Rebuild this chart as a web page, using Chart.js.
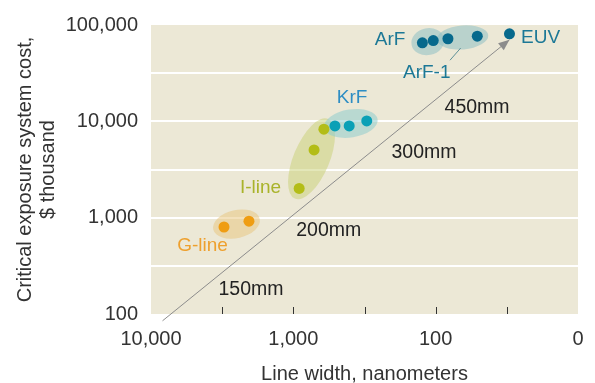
<!DOCTYPE html>
<html>
<head>
<meta charset="utf-8">
<script src="https://cdn.jsdelivr.net/npm/chart.js@4.4.0/dist/chart.umd.min.js"></script>
<style>
  html, body { margin: 0; padding: 0; background: #ffffff; }
  #wrap { width: 595px; height: 383px; position: relative; }
</style>
</head>
<body>
<div id="wrap"><canvas id="c"></canvas></div>
<script>
// Lithography generations: line width (nm) vs. critical exposure system cost ($ thousand)
const gLineWidth = [3070, 2050];
const gLineCost  = [800, 920];
const iLineWidth = [910, 715, 610];
const iLineCost  = [2010, 5050, 8300];
const krfWidth   = [510, 405, 305];
const krfCost    = [8950, 8950, 10100];
const arfWidth   = [124, 104];
const arfCost    = [65400, 69000];
const arf1Width  = [82, 51];
const arf1Cost   = [72000, 76600];
const euvWidth   = [30.3];
const euvCost    = [80900];

// Wafer-size trend arrow (start, end)
const trendWidth = [8300, 30.3];
const trendCost  = [85, 70200];

// Axis ticks
const xTicks     = [10000, 1000, 100, 10];
const xTickText  = ['10,000', '1,000', '100', '0'];
const yTicks     = [100, 1000, 10000, 100000];
const yTickText  = ['100', '1,000', '10,000', '100,000'];

const FONT = "'Liberation Sans', Arial, Helvetica, sans-serif";
const BG = '#ece8d6';

function pairs(xs, ys) { return xs.map((x, i) => ({ x: x, y: ys[i] })); }

// decade ticks plus the half-decade marks between them
function withHalves(list) {
  const s = list.slice().sort((a, b) => a - b);
  const out = [];
  s.forEach((v, i) => { out.push(v); if (i < s.length - 1) out.push(Math.sqrt(v * s[i + 1])); });
  return out;
}
function labelFor(v, vals, texts) {
  for (let i = 0; i < vals.length; i++) if (Math.abs(v - vals[i]) / vals[i] < 1e-6) return texts[i];
  return '';
}

const groups = [
  { name: 'G-line', xs: gLineWidth, ys: gLineCost, dot: '#ef9d12', fill: 'rgba(232,196,122,0.5)', minor: 14 },
  { name: 'I-line', xs: iLineWidth, ys: iLineCost, dot: '#b3bd17', fill: 'rgba(200,208,116,0.5)', minor: 18 },
  { name: 'KrF',    xs: krfWidth,   ys: krfCost,   dot: '#0aa0b6', fill: 'rgba(144,204,206,0.55)', minor: 14 },
  { name: 'ArF',    xs: arfWidth,   ys: arfCost,   dot: '#07698c', fill: 'rgba(144,192,196,0.55)', minor: 13.5 },
  { name: 'ArF-1',  xs: arf1Width,  ys: arf1Cost,  dot: '#07698c', fill: 'rgba(144,192,196,0.55)', minor: 12 },
  { name: 'EUV',    xs: euvWidth,   ys: euvCost,   dot: '#07698c', fill: null, minor: 0 }
];

// Text annotations, anchored in data units (centre of text)
const notes = [
  { text: 'ArF',   x: 209,  y: 70200, color: '#1c7896', size: 19 },
  { text: 'ArF-1', x: 115.6, y: 31700, color: '#1c7896', size: 19 },
  { text: 'EUV',   x: 18.3, y: 74100, color: '#1c7896', size: 19 },
  { text: 'KrF',   x: 387,  y: 17600, color: '#2e8ec4', size: 19 },
  { text: 'I-line', x: 1701, y: 2035, color: '#a9b32a', size: 19 },
  { text: 'G-line', x: 4347, y: 509,  color: '#eea02e', size: 19 },
  { text: '450mm', x: 51.2, y: 13970, color: '#222222', size: 19.5 },
  { text: '300mm', x: 120.8, y: 4778, color: '#222222', size: 19.5 },
  { text: '200mm', x: 564,  y: 725,   color: '#222222', size: 19.5 },
  { text: '150mm', x: 1983, y: 181,   color: '#222222', size: 19.5 }
];
// leader from the ArF-1 label to its ellipse
const leader = { x: [79.3, 66.7], y: [43100, 57700] };

const datasets = groups.map(g => ({
  label: g.name,
  data: pairs(g.xs, g.ys),
  backgroundColor: g.dot,
  borderColor: g.dot,
  borderWidth: 0,
  pointRadius: 5.5,
  pointHoverRadius: 5.5
}));
datasets.unshift({
  label: 'trend',
  data: pairs(trendWidth, trendCost),
  showLine: true,
  borderColor: '#8c8c8c',
  borderWidth: 1,
  pointRadius: 0,
  clip: false
});

const plotBackground = {
  id: 'plotBackground',
  beforeDraw(chart) {
    const a = chart.chartArea, ctx = chart.ctx;
    ctx.save();
    ctx.fillStyle = BG;
    ctx.fillRect(a.left, a.top, a.right - a.left, a.bottom - a.top);
    ctx.restore();
  }
};

// short inward tick marks along the bottom edge of the plot
const innerTicks = {
  id: 'innerTicks',
  beforeDatasetsDraw(chart) {
    const ctx = chart.ctx, sx = chart.scales.x, a = chart.chartArea;
    ctx.save();
    ctx.strokeStyle = '#333333';
    ctx.lineWidth = 1;
    sx.ticks.forEach(t => {
      if (t.value === 10 || t.value === 10000) return;
      const px = Math.round(sx.getPixelForValue(t.value)) + 0.5;
      ctx.beginPath();
      ctx.moveTo(px, a.bottom);
      ctx.lineTo(px, a.bottom - 7);
      ctx.stroke();
    });
    ctx.restore();
  }
};

const groupEllipses = {
  id: 'groupEllipses',
  beforeDatasetsDraw(chart) {
    const ctx = chart.ctx, sx = chart.scales.x, sy = chart.scales.y;
    groups.forEach(g => {
      if (!g.fill) return;
      const n = g.xs.length;
      const x0 = sx.getPixelForValue(g.xs[0]), y0 = sy.getPixelForValue(g.ys[0]);
      const x1 = sx.getPixelForValue(g.xs[n - 1]), y1 = sy.getPixelForValue(g.ys[n - 1]);
      const cx = (x0 + x1) / 2, cy = (y0 + y1) / 2;
      const half = Math.hypot(x1 - x0, y1 - y0) / 2;
      const ang = Math.atan2(y1 - y0, x1 - x0);
      ctx.save();
      ctx.fillStyle = g.fill;
      ctx.beginPath();
      ctx.ellipse(cx, cy, half + 11, g.minor, ang, 0, Math.PI * 2);
      ctx.fill();
      ctx.restore();
    });
  }
};

const annotations = {
  id: 'annotations',
  afterDatasetsDraw(chart) {
    const ctx = chart.ctx, sx = chart.scales.x, sy = chart.scales.y;
    // arrowhead at the end of the trend line
    const pts = chart.getDatasetMeta(0).data;
    const p0 = pts[0], p1 = pts[pts.length - 1];
    const ang = Math.atan2(p1.y - p0.y, p1.x - p0.x);
    ctx.save();
    ctx.fillStyle = '#8c8c8c';
    ctx.translate(p1.x, p1.y);
    ctx.rotate(ang);
    ctx.beginPath();
    ctx.moveTo(0, 0);
    ctx.lineTo(-11, -4.5);
    ctx.lineTo(-11, 4.5);
    ctx.closePath();
    ctx.fill();
    ctx.restore();

    // ArF-1 leader
    ctx.save();
    ctx.strokeStyle = '#5f9198';
    ctx.lineWidth = 1;
    ctx.beginPath();
    ctx.moveTo(sx.getPixelForValue(leader.x[0]), sy.getPixelForValue(leader.y[0]));
    ctx.lineTo(sx.getPixelForValue(leader.x[1]), sy.getPixelForValue(leader.y[1]));
    ctx.stroke();
    ctx.restore();

    // labels
    ctx.save();
    ctx.textAlign = 'center';
    ctx.textBaseline = 'middle';
    notes.forEach(n => {
      ctx.font = n.size + 'px ' + FONT;
      ctx.fillStyle = n.color;
      ctx.fillText(n.text, sx.getPixelForValue(n.x), sy.getPixelForValue(n.y));
    });
    ctx.restore();
  }
};

new Chart(document.getElementById('c'), {
  type: 'scatter',
  data: { datasets: datasets },
  options: {
    responsive: true,
    maintainAspectRatio: false,
    animation: false,
    devicePixelRatio: 1,
    layout: { padding: { top: 21, right: 17, bottom: 0, left: 0 } },
    plugins: { legend: { display: false }, tooltip: { enabled: false } },
    scales: {
      x: {
        type: 'logarithmic',
        reverse: true,
        min: 10,
        max: 10000,
        afterBuildTicks(scale) { scale.ticks = withHalves(xTicks).map(v => ({ value: v })); },
        afterFit(scale) { scale.height = 69; },
        ticks: {
          autoSkip: false,
          maxRotation: 0,
          padding: 13,
          color: '#333333',
          font: { family: FONT, size: 20 },
          callback: v => labelFor(v, xTicks, xTickText)
        },
        grid: { display: false, drawOnChartArea: false, drawTicks: false },
        border: { display: false },
        title: {
          display: true,
          text: 'Line width, nanometers',
          color: '#333333',
          font: { family: FONT, size: 20, lineHeight: 1 },
          padding: { top: 0, bottom: -1 }
        }
      },
      y: {
        type: 'logarithmic',
        min: 100,
        max: 100000,
        afterBuildTicks(scale) { scale.ticks = withHalves(yTicks).map(v => ({ value: v })); },
        afterFit(scale) { scale.width = 151; },
        ticks: {
          autoSkip: false,
          padding: 13,
          color: '#333333',
          font: { family: FONT, size: 20 },
          callback: v => labelFor(v, yTicks, yTickText)
        },
        grid: {
          drawTicks: false,
          lineWidth: 2,
          color: ctx => (ctx.tick && (ctx.tick.value === 100 || ctx.tick.value === 100000)) ? 'rgba(0,0,0,0)' : '#ffffff'
        },
        border: { display: false },
        title: {
          display: true,
          text: ['Critical exposure system cost,', '$ thousand'],
          color: '#333333',
          font: { family: FONT, size: 20, lineHeight: 1.15 },
          padding: { top: 13.5, bottom: 0 }
        }
      }
    }
  },
  plugins: [plotBackground, innerTicks, groupEllipses, annotations]
});
</script>
</body>
</html>
